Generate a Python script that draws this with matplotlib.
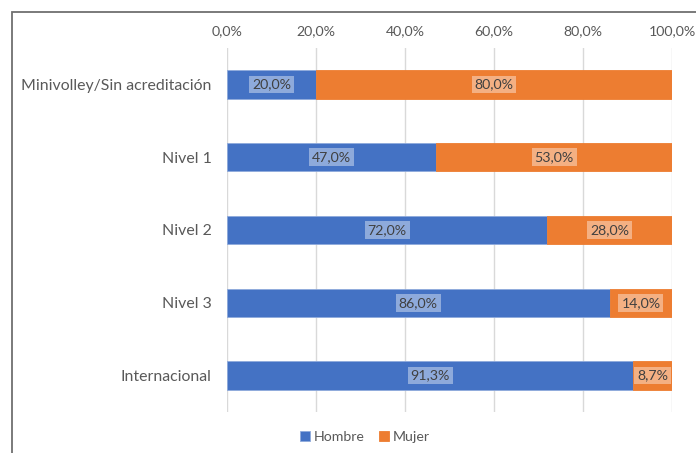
import matplotlib.pyplot as plt
from matplotlib.patches import Rectangle

categories = ["Minivolley/Sin acreditación", "Nivel 1", "Nivel 2", "Nivel 3", "Internacional"]
hombre = [20.0, 47.0, 72.0, 86.0, 91.3]
mujer = [80.0, 53.0, 28.0, 14.0, 8.7]
xticks = [0, 20, 40, 60, 80, 100]

blue = "#4472C4"
orange = "#ED7D31"
text_gray = "#595959"

plt.rcParams['font.family'] = ['Lato', 'DejaVu Sans']

fig = plt.figure(figsize=(6.96, 4.53), dpi=100)
ax = fig.add_axes([227 / 696, 1 - 412 / 453, (672 - 227) / 696, (412 - 48) / 453])

# chart frame
fig.patches.append(Rectangle((12 / 696, -0.1), 1.2, 1 - 12 / 453 + 0.1,
                             transform=fig.transFigure, fill=False,
                             edgecolor="#6f6f6f", linewidth=1.3))

y = list(range(len(categories)))
h = 0.39
ax.barh(y, hombre, height=h, color=blue, edgecolor="#8faadc", linewidth=0.6, label="Hombre", zorder=3)
ax.barh(y, mujer, left=hombre, height=h, color=orange, edgecolor=orange, linewidth=0.6, label="Mujer", zorder=3)

def fmt(v):
    return f"{v:.1f}%".replace(".", ",")

for yi, hv, mv in zip(y, hombre, mujer):
    ax.text(hv / 2, yi, fmt(hv), ha="center", va="center", fontsize=10.2, color="#404040",
            bbox=dict(boxstyle="square,pad=0.2", facecolor="white", alpha=0.4, edgecolor="none"),
            zorder=4)
    ax.text(hv + mv / 2, yi, fmt(mv), ha="center", va="center", fontsize=10.2, color="#404040",
            bbox=dict(boxstyle="square,pad=0.2", facecolor="white", alpha=0.4, edgecolor="none"),
            zorder=4)

ax.set_xlim(0, 100)
ax.set_ylim(len(categories) - 0.5, -0.5)
ax.set_yticks(y)
ax.set_yticklabels(categories, fontsize=11.4, color=text_gray)
ax.set_xticks(xticks)
ax.set_xticklabels([fmt(t) for t in xticks], fontsize=10.2, color=text_gray)
ax.xaxis.tick_top()
ax.tick_params(axis="both", length=0)
ax.tick_params(axis="x", pad=8)
ax.tick_params(axis="y", pad=11)
ax.grid(axis="x", color="#d9d9d9", linewidth=1, zorder=0)
for s in ax.spines.values():
    s.set_visible(False)

leg = fig.legend(loc="center", bbox_to_anchor=(365 / 696, 1 - 437 / 453), ncol=2, frameon=False,
                 fontsize=10.2, handlelength=0.7, handleheight=0.7, handletextpad=0.3,
                 columnspacing=1.0)
for t in leg.get_texts():
    t.set_color(text_gray)

fig.savefig("out.png", dpi=100)
